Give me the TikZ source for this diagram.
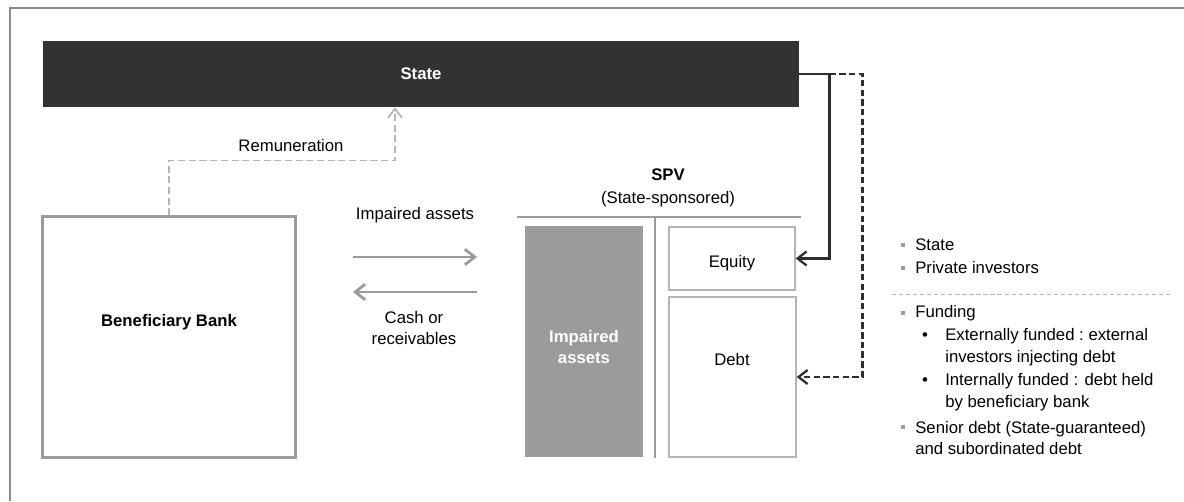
\documentclass[tikz,border=0pt]{standalone}
\usepackage{fontspec}
\setmainfont{Liberation Sans}
\usetikzlibrary{arrows.meta}
\definecolor{statebg}{HTML}{333132}
\definecolor{midgrey}{HTML}{9B9B9E}
\definecolor{lightgrey}{HTML}{B4B4B4}
\definecolor{framegrey}{HTML}{8A8A8A}
\definecolor{darkline}{HTML}{2E2E2E}

\begin{document}
\begin{tikzpicture}[x=0.025cm, y=-0.025cm,
    font=\fontsize{11.9}{15.3}\selectfont,
    >={Straight Barb[length=6.5pt,width=10pt]},
    box/.style={draw=lightgrey, line width=0.9pt, inner sep=0pt},
    bankbox/.style={draw=midgrey, line width=2.1pt, inner sep=0pt},
    flow/.style={-{Straight Barb[length=7pt,width=11pt]}, draw=midgrey, line width=2pt},
    remun/.style={->, draw=lightgrey, line width=1.3pt, dash pattern=on 5pt off 2.6pt},
    fund/.style={->, draw=darkline, line width=1.6pt},
    spvline/.style={draw=midgrey, line width=2pt},
    sq/.style={fill=midgrey, minimum size=3.2pt, inner sep=0pt},
    note/.style={anchor=west, inner sep=0pt, align=left}]
  \useasboundingbox (0,0) rectangle (1184,501);
  \draw[framegrey, line width=1.4pt] (10,501) -- (10,8) -- (1184,8);

  % state bar and bank
  \node[fill=statebg, text=white, minimum width=18.9cm, minimum height=1.65cm, inner sep=0pt] (state) at (421,74) {\textbf{State}};
  \node[bankbox, minimum width=6.3cm, minimum height=6cm] (bank) at (169,337) {};
  \node (banklbl) at (169,322) {\textbf{Beneficiary Bank}};

  \draw[remun] (bank.north) -- ++(0,-55) -| ([xshift=-0.65cm]state.south);
  \node (remlbl) at (291,146) {Remuneration};

  % transfers between bank and SPV
  \coordinate (ia-w) at (353,257);
  \coordinate (ia-e) at (477,257);
  \coordinate (cr-w) at (353,292);
  \coordinate (cr-e) at (477,292);
  \draw[flow] (ia-w) -- (ia-e);
  \draw[flow] (cr-e) -- (cr-w);
  \node (ialbl) at (415,215) {Impaired assets};
  \node[align=center] (crlbl) at (414,328) {Cash or\\receivables};

  % SPV balance sheet
  \node[align=center] (spv) at (668,188) {\textbf{SPV}\\[1pt](State-sponsored)};
  \draw[spvline] (517,217) -- (801,217);
  \draw[spvline] (655,217) -- (655,458);
  \node[fill=midgrey, minimum width=2.95cm, minimum height=5.775cm, inner sep=0pt] (impaired) at (584,341.5) {};
  \node[text=white, align=center] (implbl) at (584,347) {\textbf{Impaired}\\\textbf{assets}};
  \node[box, minimum width=3.15cm, minimum height=1.575cm] (equity) at (732,258.5) {};
  \node (eqlbl) at (732,263) {Equity};
  \node[box, minimum width=3.175cm, minimum height=4cm] (debt) at (732.5,377) {};
  \node (debtlbl) at (732,360) {Debt};

  \draw[fund] (state.east) -- ++(30,0) |- (equity.east);
  \draw[fund, dash pattern=on 4.6pt off 2.3pt] ([xshift=0.75cm]state.east) -- ++(33,0) |- (debt.east);

  % notes on the right
  \node[sq] (sq1) at (903,245) {};
  \node[note] (n1) at (915,245) {State};
  \node[sq] (sq2) at (903,268) {};
  \node[note] (n2) at (915,268) {Private investors};
  \draw[lightgrey, line width=0.7pt, dash pattern=on 3pt off 2pt] (892,294) -- (1172,294);
  \node[sq] (sq3) at (903,313) {};
  \node[note] (n3) at (915,313) {Funding};
  \node (b1) at (925,337) {\textbullet};
  \node[note] (n4) at (945,347) {Externally funded :\ external\\investors injecting debt};
  \node (b2) at (925,382) {\textbullet};
  \node[note] (n5) at (945,392) {Internally funded : debt held\\by beneficiary bank};
  \node[sq] (sq4) at (903,427) {};
  \node[note] (n6) at (915,438) {Senior debt (State-guaranteed)\\and subordinated debt};
\end{tikzpicture}
\end{document}
